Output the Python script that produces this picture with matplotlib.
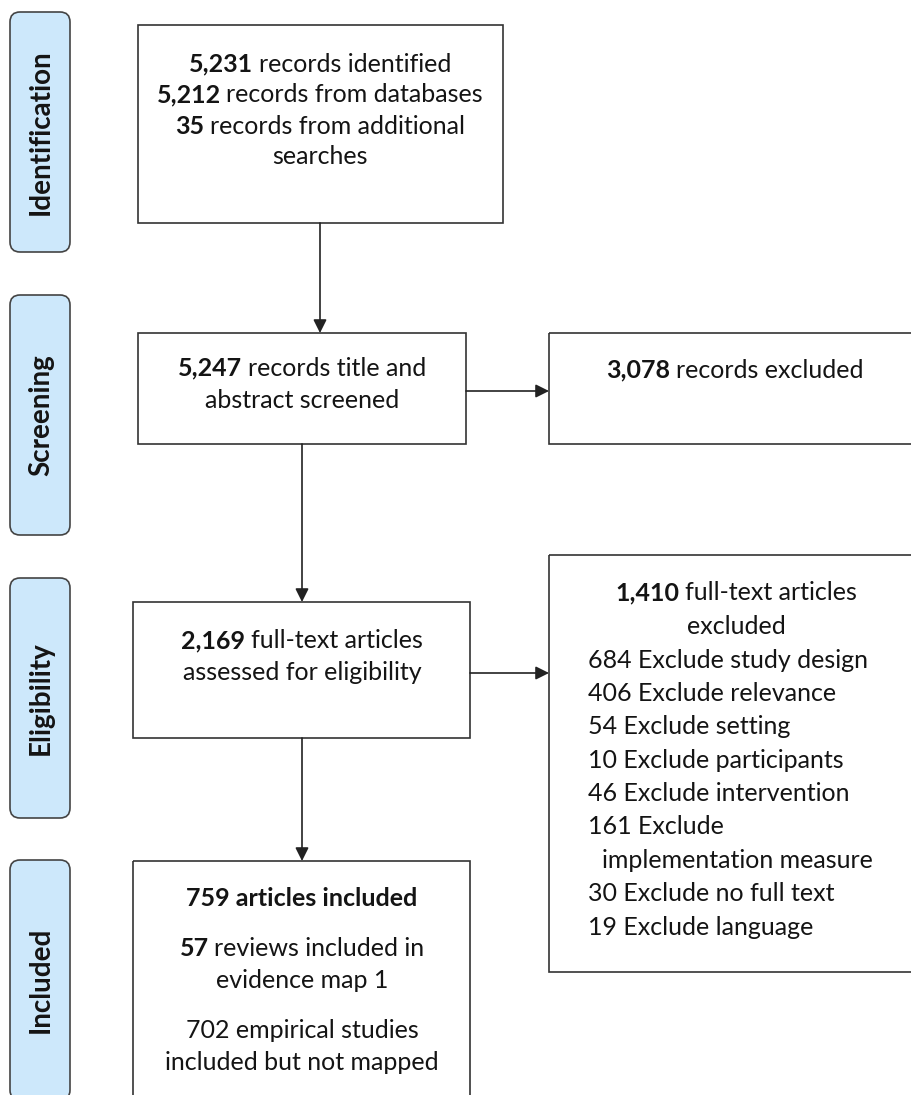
import textwrap
import matplotlib
matplotlib.use('Agg')
import matplotlib.pyplot as plt
from matplotlib.patches import FancyBboxPatch, Rectangle

# stage labels on the left
stages = ['Identification', 'Screening', 'Eligibility', 'Included']

# flow counts
identified = 5231
from_databases = 5212
from_additional = 35
screened = 5247
screen_excluded = 3078
fulltext = 2169
fulltext_excluded = 1410
included = 759
reviews = 57
empirical = 702

# full-text exclusion reasons
reasons = ['study design', 'relevance', 'setting', 'participants',
           'intervention', 'implementation measure', 'no full text', 'language']
reason_counts = [684, 406, 54, 10, 46, 161, 30, 19]

FONT = 'Lato'
FS = 18
INK = '#141414'
EDGE = '#333333'

plt.rcParams['font.family'] = [FONT, 'DejaVu Sans']

fig = plt.figure(figsize=(9.12, 10.95), dpi=100)
ax = fig.add_axes([0, 0, 1, 1])
ax.set_xlim(0, 912)
ax.set_ylim(1095, 0)
ax.axis('off')
renderer = fig.canvas.get_renderer()


def width(s, bold=False):
    t = ax.text(0, 0, s, fontsize=FS, fontweight='bold' if bold else 'normal')
    w = t.get_window_extent(renderer).width
    t.remove()
    return w


SPACE = 0.85 * (width('x x') - width('xx'))


def line(x, y, runs, ha='center'):
    # runs: list of (text, bold), joined with spaces
    ws = [width(s, b) for s, b in runs]
    total = sum(ws) + SPACE * (len(runs) - 1)
    x0 = x - total / 2 if ha == 'center' else x
    for (s, b), w in zip(runs, ws):
        ax.text(x0, y, s, fontsize=FS, fontweight='bold' if b else 'normal',
                color=INK, ha='left', va='center')
        x0 += w + SPACE


def box(x0, y0, x1, y1):
    ax.add_patch(Rectangle((x0, y0), x1 - x0, y1 - y0, fill=False,
                           ec=EDGE, lw=1.2, clip_on=False))


def arrow(x0, y0, x1, y1):
    ax.annotate('', xy=(x1, y1), xytext=(x0, y0),
                arrowprops=dict(arrowstyle='-|>', mutation_scale=20, lw=1.2,
                                color='#222222', shrinkA=0, shrinkB=0))


# stage labels
label_tops = [12, 295, 578, 860]
for name, top in zip(stages, label_tops):
    ax.add_patch(FancyBboxPatch((10, top), 60, 240,
                                boxstyle='round,pad=0,rounding_size=10',
                                fc='#cde8fb', ec='#444444', lw=1.2))
    ax.text(41, top + 120, name, rotation=90, fontsize=20, fontweight='bold',
            color=INK, ha='center', va='center')

# identification box
box(138, 25, 503, 223)
line(320, 64, [(f'{identified:,}', True), ('records identified', False)])
line(320, 95, [(f'{from_databases:,}', True), ('records from databases', False)])
line(320, 126, [(f'{from_additional:,}', True), ('records from additional', False)])
line(320, 157, [('searches', False)])
arrow(320, 223, 320, 333)

# screening box
box(138, 333, 466, 444)
line(302, 368, [(f'{screened:,}', True), ('records title and', False)])
line(302, 401, [('abstract screened', False)])
arrow(466, 391, 549, 391)

box(549, 333, 920, 444)
line(735, 370, [(f'{screen_excluded:,}', True), ('records excluded', False)])
arrow(302, 444, 302, 602)

# eligibility box
box(133, 602, 470, 738)
line(302, 641, [(f'{fulltext:,}', True), ('full-text articles', False)])
line(302, 673, [('assessed for eligibility', False)])
arrow(470, 673, 549, 673)

box(549, 555, 920, 972)
line(736, 593, [(f'{fulltext_excluded:,}', True), ('full-text articles', False)])
line(736, 626, [('excluded', False)])
y = 660
for n, r in zip(reason_counts, reasons):
    parts = textwrap.wrap(f'{n} Exclude {r}', 25)
    for i, p in enumerate(parts):
        line(588 if i == 0 else 602, y, [(p, False)], ha='left')
        y += 33.4
arrow(302, 738, 302, 861)

# included box
box(133, 861, 470, 1110)
line(302, 899, [(f'{included} articles included', True)])
line(302, 948, [(f'{reviews}', True), ('reviews included in', False)])
line(302, 980, [('evidence map 1', False)])
line(302, 1030, [(f'{empirical} empirical studies', False)])
line(302, 1062, [('included but not mapped', False)])

fig.savefig('out.png', dpi=100)
